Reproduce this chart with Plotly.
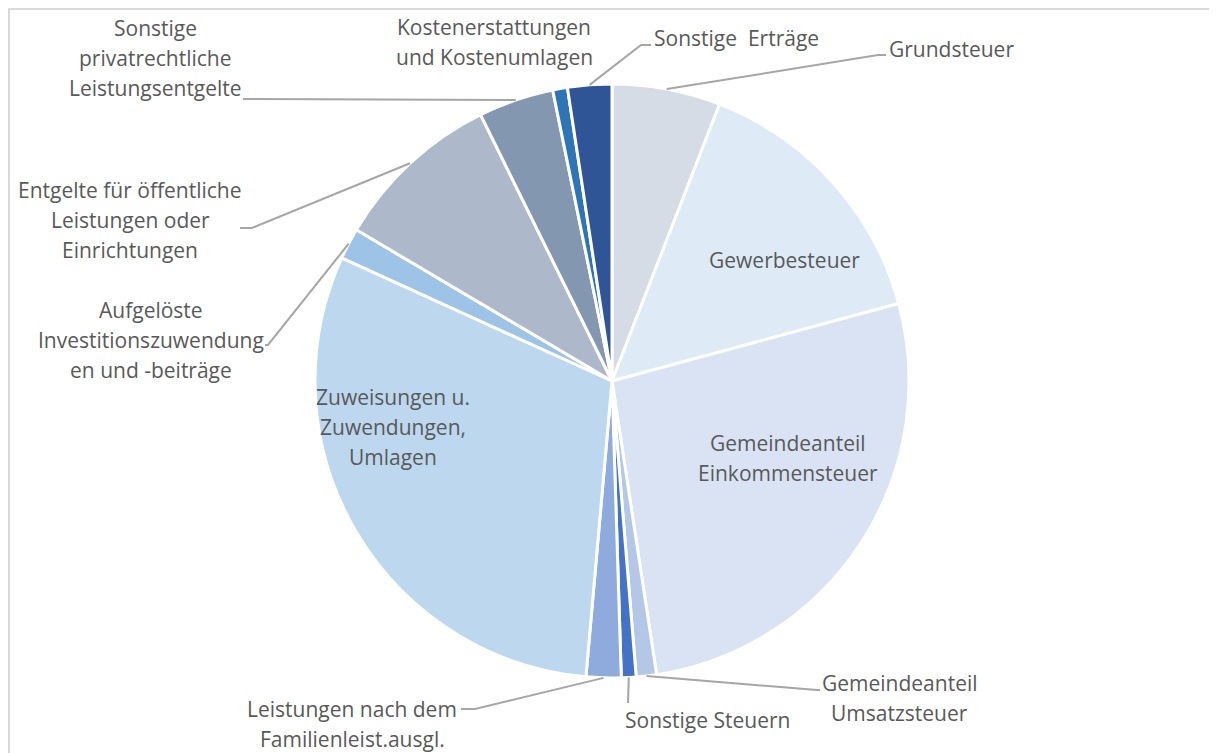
"""Kreisdiagramm: Ertragsstruktur (ordentliche Erträge) nach Ertragsarten."""

import math

import plotly.graph_objects as go

W, H = 1217, 753
OFF = 8  # Seitenrand des Browsers (body margin)

labels = [
    "Grundsteuer",
    "Gewerbesteuer",
    "Gemeindeanteil Einkommensteuer",
    "Gemeindeanteil Umsatzsteuer",
    "Sonstige Steuern",
    "Leistungen nach dem Familienleist.ausgl.",
    "Zuweisungen u. Zuwendungen, Umlagen",
    "Aufgelöste Investitionszuwendungen und -beiträge",
    "Entgelte für öffentliche Leistungen oder Einrichtungen",
    "Sonstige privatrechtliche Leistungsentgelte",
    "Kostenerstattungen und Kostenumlagen",
    "Sonstige Erträge",
]
values = [5.9, 14.9, 26.8, 1.1, 0.8, 1.9, 30.4, 1.7, 9.2, 4.1, 0.8, 2.4]
colors = [
    "#D6DCE5", "#DEEBF7", "#DAE3F3", "#B4C7E7", "#4472C4", "#8FAADC",
    "#BDD7EE", "#9DC3E6", "#ADB9CA", "#8497B0", "#2E75B6", "#2F5597",
]

# Beschriftung wie im Original umgebrochen (eine Zeile pro Eintrag)
label_lines = [
    ["Grundsteuer"],
    ["Gewerbesteuer"],
    ["Gemeindeanteil", "Einkommensteuer"],
    ["Gemeindeanteil", "Umsatzsteuer"],
    ["Sonstige Steuern"],
    ["Leistungen nach dem", "Familienleist.ausgl."],
    ["Zuweisungen u.", "Zuwendungen,", "Umlagen"],
    ["Aufgelöste", "Investitionszuwendung", "en und -beiträge"],
    ["Entgelte für öffentliche", "Leistungen oder", "Einrichtungen"],
    ["Sonstige", "privatrechtliche", "Leistungsentgelte"],
    ["Kostenerstattungen", "und Kostenumlagen"],
    ["Sonstige\u00a0 Erträge"],
]

# Layout: Mittelpunkt der Beschriftung (px) und Knickpunkte der Führungslinie (px)
label_pos = [
    (951, 49), (784, 260), (788, 458), (900, 698), (707, 720), (352, 724),
    (393, 427), (151, 340), (130, 220), (155, 58), (494, 42), (736, 38),
]
leader_pts = [
    [(878, 55), (886, 55)],
    None,
    None,
    [(817, 690), (820, 690)],
    [(628, 703)],
    [(475, 709), (461, 709)],
    None,
    [(268, 345), (265, 345)],
    [(252, 228), (240, 228)],
    [(246, 99), (243, 99)],
    None,
    [(641, 45), (651, 45)],
]

CX, CY, R = 612, 381, 297
LINE_H = 30
_FONT = dict(family="Open Sans, sans-serif", size=21, color="#595959")


def px(x):
    return (x - OFF) / W


def py(y):
    return 1 - (y - OFF) / H


fig = go.Figure(
    go.Pie(
        labels=labels,
        values=values,
        sort=False,
        direction="clockwise",
        rotation=0,
        textinfo="none",
        hoverinfo="label+percent",
        marker=dict(colors=colors, line=dict(color="white", width=3)),
        domain=dict(x=[px(CX - R), px(CX + R)], y=[py(CY + R), py(CY - R)]),
        showlegend=False,
    )
)

annotations = []
shapes = []
total = sum(values)
cum = 0.0
for i, v in enumerate(values):
    mid = (cum + v / 2) / total * 2 * math.pi
    cum += v
    lx, ly = label_pos[i]
    n = len(label_lines[i])
    for k, line in enumerate(label_lines[i]):
        annotations.append(
            dict(
                text=line,
                x=px(lx),
                y=py(ly + (k - (n - 1) / 2) * LINE_H),
                xref="paper",
                yref="paper",
                showarrow=False,
                xanchor="center",
                yanchor="middle",
                font=_FONT,
            )
        )
    if leader_pts[i]:
        sx = CX + R * math.sin(mid)
        sy = CY - R * math.cos(mid)
        pts = [(sx, sy)] + leader_pts[i]
        path = "M " + " L ".join(f"{px(x):.5f},{py(y):.5f}" for x, y in pts)
        shapes.append(
            dict(type="path", path=path, xref="paper", yref="paper", line=dict(color="#A6A6A6", width=2))
        )

# Rahmen des Diagrammbereichs (rechts/unten angeschnitten)
shapes.append(
    dict(
        type="rect",
        xref="paper",
        yref="paper",
        x0=px(9),
        x1=1.02,
        y0=-0.02,
        y1=py(9),
        line=dict(color="#D9D9D9", width=2),
    )
)

fig.update_layout(
    width=W,
    height=H,
    margin=dict(l=0, r=0, t=0, b=0),
    paper_bgcolor="white",
    plot_bgcolor="white",
    font=_FONT,
    annotations=annotations,
    shapes=shapes,
)

fig.write_html("out.html")
